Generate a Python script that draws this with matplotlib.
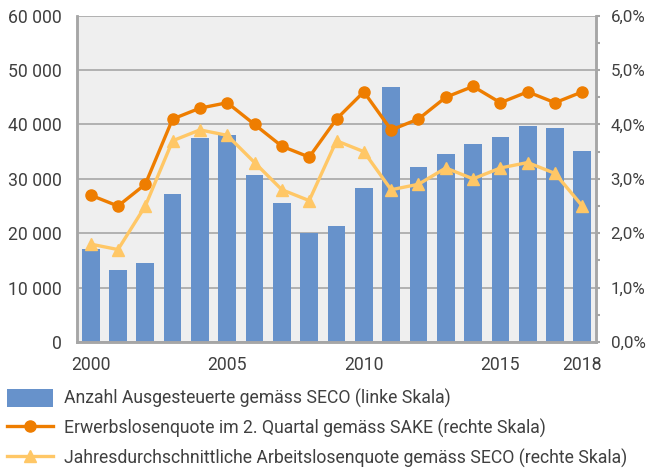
import matplotlib
matplotlib.use("Agg")
import matplotlib.pyplot as plt
from matplotlib.ticker import FuncFormatter, MultipleLocator
import numpy as np

years = list(range(2000, 2019))
ausgesteuerte = [17100, 13200, 14500, 27200, 37550, 38050, 30750, 25550, 20000, 21300,
                 28300, 46900, 32200, 34550, 36400, 37700, 39700, 39350, 35100]
sake = [2.7, 2.5, 2.9, 4.1, 4.3, 4.4, 4.0, 3.6, 3.4, 4.1,
        4.6, 3.9, 4.1, 4.5, 4.7, 4.4, 4.6, 4.4, 4.6]
seco = [1.8, 1.7, 2.5, 3.7, 3.9, 3.8, 3.3, 2.8, 2.6, 3.7,
        3.5, 2.8, 2.9, 3.2, 3.0, 3.2, 3.3, 3.1, 2.5]
xtick_years = [2000, 2005, 2010, 2015, 2018]

labels = ["Anzahl Ausgesteuerte gemäss SECO (linke Skala)",
          "Erwerbslosenquote im 2. Quartal gemäss SAKE (rechte Skala)",
          "Jahresdurchschnittliche Arbeitslosenquote gemäss SECO (rechte Skala)"]

plt.rcParams['font.family'] = ['Roboto', 'DejaVu Sans']
FS = 12.7
TXT = '#404040'
GRID = '#A6A6A6'
c_bar = '#6792CB'
c_org = '#EE7D00'
c_yel = '#FFC766'

fig = plt.figure(figsize=(6.5, 4.71), dpi=100)
ax = fig.add_axes([77/650, 1-342/471, (596-77)/650, (342-15.7)/471])
ax.set_facecolor('#EFEFEF')
x = np.arange(len(years))
bars = ax.bar(x, ausgesteuerte, width=0.65, color=c_bar, zorder=2)
ax.set_xlim(-0.5, len(years)-0.5)
ax.set_ylim(0, 60000)
ax.yaxis.set_major_locator(MultipleLocator(10000))
ax.yaxis.set_major_formatter(FuncFormatter(lambda v, p: f"{int(v):,}".replace(',', ' ')))
ax.grid(axis='y', color=GRID, linewidth=1.2, zorder=0)
ax.set_axisbelow(True)
ax.set_xticks([years.index(y) for y in xtick_years])
ax.set_xticklabels([str(y) for y in xtick_years])
ax.tick_params(axis='x', length=0, pad=10, labelsize=FS, colors=TXT)
ax.tick_params(axis='y', length=0, pad=11, labelsize=FS, colors=TXT)
ax.spines['top'].set_visible(False)
for s in ['left', 'bottom', 'right']:
    ax.spines[s].set_color(GRID)
    ax.spines[s].set_linewidth(1.8)

ax2 = ax.twinx()
l1, = ax2.plot(x, sake, color=c_org, lw=2.4, marker='o', ms=8, zorder=4)
l2, = ax2.plot(x, seco, color=c_yel, lw=2.4, marker='^', ms=9, zorder=3)
ax2.set_ylim(0, 6)
ax2.yaxis.set_major_locator(MultipleLocator(0.5))
ax2.yaxis.set_major_formatter(FuncFormatter(
    lambda v, p: (f"{v:.1f}%".replace('.', ',')) if abs(round(v) - v) < 1e-6 else ''))
ax2.tick_params(axis='y', length=3, width=1.5, color=GRID, pad=7.5, labelsize=12.2, labelcolor=TXT)
ax2.spines['top'].set_visible(False)
for s in ['left', 'bottom', 'right']:
    ax2.spines[s].set_color(GRID)
    ax2.spines[s].set_linewidth(1.8)

leg = fig.legend([bars, l1, l2], labels, loc='upper left', bbox_to_anchor=(7/650, 1-389/471),
                 frameon=False, fontsize=FS, handlelength=2.6, handletextpad=0.62,
                 labelspacing=0.6, borderpad=0, borderaxespad=0, labelcolor=TXT,
                 handleheight=1.15)
fig.savefig('out.png', dpi=100)
